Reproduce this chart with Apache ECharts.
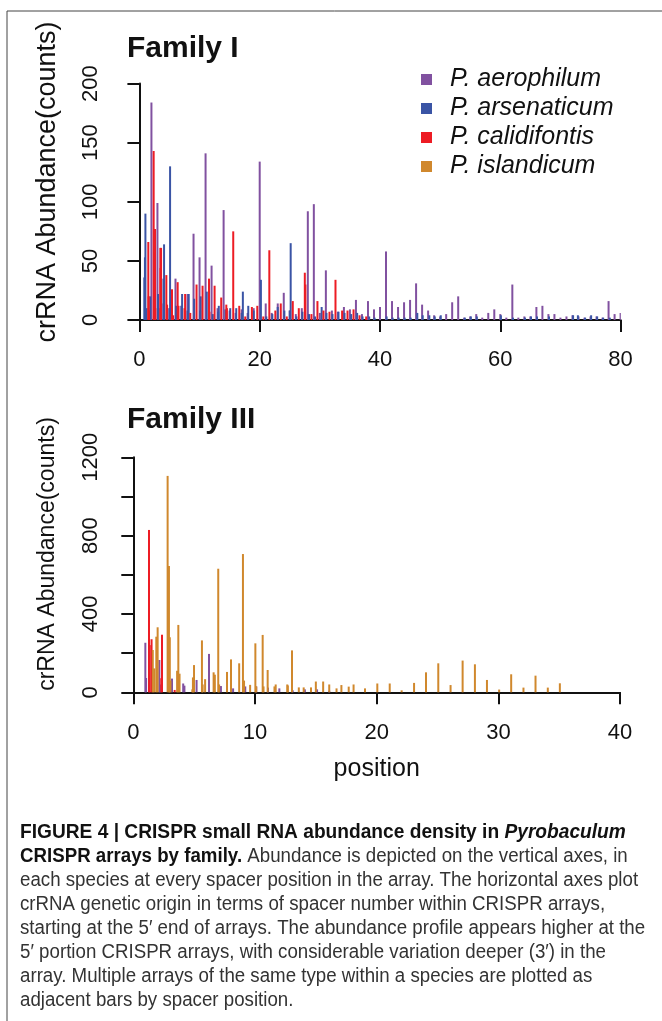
<!DOCTYPE html>
<html>
<head>
<meta charset="utf-8">
<script src="https://cdn.jsdelivr.net/npm/echarts@6/dist/echarts.min.js"></script>
<style>
  html, body { margin: 0; padding: 0; background: #fff; }
  #chart { width: 662px; height: 1021px; }
</style>
</head>
<body>
<div id="chart"></div>
<script>
// CRISPR small RNA abundance, Family I / Family III

const speciesNames = ['P. aerophilum', 'P. arsenaticum', 'P. calidifontis', 'P. islandicum'];
const speciesColors = ['#8151a0', '#3a54a5', '#ed1c24', '#d0882d'];

// Family I  [spacer position, counts]
const famI_aerophilum = [
    [1, 5], [2, 184], [3, 99], [4, 14], [5, 10], [6, 35], [7, 12], [8, 22], [9, 73], [10, 53],
    [11, 141], [12, 46], [13, 10], [14, 93], [15, 8], [16, 6], [17, 9], [18, 6], [19, 10], [20, 134],
    [21, 14], [22, 6], [23, 14], [24, 23], [25, 8], [26, 5], [27, 10], [28, 92], [29, 98], [30, 6],
    [31, 42], [32, 8], [33, 7], [34, 11], [35, 9], [36, 17], [37, 5], [38, 16], [39, 9], [40, 11],
    [41, 58], [42, 16], [43, 11], [44, 15], [45, 17], [46, 31], [47, 13], [48, 8], [49, 4], [50, 3],
    [51, 5], [52, 15], [53, 20], [54, 2], [55, 3], [56, 5], [57, 2], [58, 6], [59, 9], [60, 5],
    [61, 2], [62, 30], [63, 2], [64, 3], [65, 3], [66, 11], [67, 12], [68, 5], [69, 5], [70, 2],
    [71, 3], [72, 4], [73, 3], [74, 2], [75, 3], [76, 3], [77, 2], [78, 16], [79, 5], [80, 6]
];
const famI_arsenaticum = [
    [0.82, 36], [0.92, 53], [1.0, 90], [1.2, 10], [1.8, 20], [3.1, 22], [3.2, 10], [4.0, 35], [4.1, 64],
    [5.0, 10], [5.1, 130], [6.1, 12], [6.2, 8], [7.0, 12], [7.1, 22], [8.0, 8], [8.2, 22], [9.1, 18],
    [10.1, 8], [10.2, 20], [11.2, 24], [12.2, 5], [13.1, 7], [13.2, 12], [14.3, 9], [15.1, 10],
    [16.1, 10], [17.0, 6], [17.2, 24], [18.1, 12], [19.0, 8], [20.2, 34], [21.1, 3], [22.1, 5],
    [23.0, 11], [24.1, 8], [25.0, 8], [25.15, 65], [26.1, 3], [27.1, 7], [28.2, 5], [29.2, 3],
    [30.3, 11], [31.1, 6], [32.1, 5], [33.1, 7], [34.1, 6], [35.2, 5], [36.2, 6], [37.1, 3],
    [38.2, 3], [39.1, 2], [41.1, 3], [42.1, 2], [43.1, 2], [44.1, 2], [45.1, 2], [46.2, 6],
    [47.1, 4], [48.2, 4], [49.1, 3], [50.1, 4], [54.1, 2], [55.1, 3], [56.1, 3], [60.1, 4],
    [62.1, 2], [64.1, 2], [65.1, 3], [66.1, 3], [68.1, 3], [72.1, 4], [72.9, 4], [74.1, 2],
    [75.1, 4], [76.1, 3], [77.1, 2], [78.2, 2]
];
const famI_calidifontis = [
    [1.48, 66], [1.53, 20], [1.6, 8], [2.37, 143], [2.5, 57], [2.6, 77], [2.65, 10], [3.48, 61],
    [3.52, 44], [3.6, 61], [4.48, 38], [4.6, 13], [5.42, 26], [5.6, 4], [6.36, 32], [6.5, 12],
    [7.5, 10], [7.6, 22], [8.46, 6], [9.5, 30], [10.5, 29], [11.57, 35], [11.65, 7], [12.5, 29],
    [13.6, 19], [14.45, 13], [14.55, 10], [15.6, 75], [16.6, 12], [17.6, 3], [18.7, 11], [19.6, 12],
    [20.6, 3], [21.6, 59], [22.6, 8], [23.5, 14], [24.5, 3], [25.5, 16], [26.5, 10], [27.5, 40],
    [27.6, 30], [28.6, 5], [29.6, 16], [30.6, 8], [31.6, 7], [32.6, 34], [33.7, 8], [34.6, 8],
    [35.6, 9], [36.6, 4], [37.7, 3]
];
const famI_islandicum = [];

// Family III
const famIII_aerophilum = [
    [0.99, 253], [1.05, 73], [2.14, 165], [2.2, 40], [3.18, 70], [4.1, 45], [4.2, 34], [5.2, 63],
    [6.22, 196], [7.2, 32], [8.2, 20], [9.2, 30], [10.1, 30], [11.07, 24], [12.0, 20], [13.1, 10],
    [14.1, 15], [15.1, 15], [16.1, 8]
];
const famIII_arsenaticum = [];
const famIII_calidifontis = [
    [1.29, 829], [1.35, 241], [1.5, 271], [2.3, 72], [2.36, 294], [3.4, 12]
];
const famIII_islandicum = [
    [1.6, 216], [1.72, 122], [1.89, 284], [2.0, 332], [2.82, 1105], [2.93, 645], [3.0, 281], [3.05, 60],
    [3.6, 110], [3.7, 344], [3.8, 95], [4.85, 15], [4.9, 76], [4.99, 139], [5.64, 265], [5.7, 40],
    [5.9, 67], [6.6, 102], [6.7, 90], [6.98, 631], [7.05, 40], [7.7, 104], [8.03, 168], [8.7, 148],
    [9.01, 706], [9.1, 60], [9.6, 38], [10.03, 250], [10.1, 30], [10.63, 293], [10.7, 30], [11.04, 114],
    [11.6, 30], [11.7, 40], [12.65, 40], [12.7, 35], [13.04, 214], [13.6, 25], [14.0, 25], [14.6, 25],
    [15.0, 55], [15.6, 55], [16.1, 40], [16.7, 20], [17.1, 37], [17.7, 29], [18.1, 40], [19.04, 20],
    [20.05, 45], [21.07, 45], [22.05, 10], [23.07, 48], [24.05, 102], [25.06, 148], [26.07, 37],
    [27.06, 162], [28.07, 143], [29.06, 63], [30.06, 14], [31.05, 92], [32.06, 24], [33.05, 85],
    [34.06, 24], [35.05, 46]
];

const xTicksI = [0, 80, 20];      // min, max, step
const yTicksI = [0, 200, 50];
const xTicksIII = [0, 40, 10];
const yTicksIII = [0, 1200, 200];

const captionLines = [
    '{b|FIGURE 4 | CRISPR small RNA abundance density in }{bi|Pyrobaculum}',
    '{b|CRISPR arrays by family.}{n| Abundance is depicted on the vertical axes, in}',
    '{n|each species at every spacer position in the array. The horizontal axes plot}',
    '{n|crRNA genetic origin in terms of spacer number within CRISPR arrays,}',
    '{n|starting at the 5\u2032 end of arrays. The abundance profile appears higher at the}',
    '{n|5\u2032 portion CRISPR arrays, with considerable variation deeper (3\u2032) in the}',
    '{n|array. Multiple arrays of the same type within a species are plotted as}',
    '{n|adjacent bars by spacer position.}'
];

const FONT = '"Liberation Sans", Arial, Helvetica, sans-serif';

const chart = echarts.init(document.getElementById('chart'));

function xAxisFor(grid, ticks, offset, extra) {
    return Object.assign({
        type: 'value',
        gridIndex: grid,
        min: ticks[0],
        max: ticks[1],
        interval: ticks[2],
        position: 'bottom',
        offset: offset,
        axisLine: { show: true, lineStyle: { color: '#111', width: 2 } },
        axisTick: { show: true, length: 12, lineStyle: { color: '#111', width: 2 } },
        axisLabel: { color: '#111', fontSize: 22, fontFamily: FONT, margin: 21 },
        splitLine: { show: false }
    }, extra || {});
}

function yAxisFor(grid, ticks, offset, labelEvery) {
    return {
        type: 'value',
        gridIndex: grid,
        min: ticks[0],
        max: ticks[1],
        interval: ticks[2],
        offset: offset,
        axisLine: { show: true, lineStyle: { color: '#111', width: 2 } },
        axisTick: { show: true, length: 12, lineStyle: { color: '#111', width: 2 } },
        axisLabel: {
            color: '#111', fontSize: 22, fontFamily: FONT, rotate: 90, margin: 24,
            formatter: v => (v % labelEvery === 0 ? String(v) : '')
        },
        splitLine: { show: false }
    };
}

function barSeries(name, data, axis) {
    const idx = speciesNames.indexOf(name);
    return {
        name: name,
        type: 'bar',
        xAxisIndex: axis,
        yAxisIndex: axis,
        data: data,
        barWidth: 2,
        barGap: '-100%',
        itemStyle: { color: speciesColors[idx] },
        emphasis: { disabled: true }
    };
}

const graphics = [
    { type: 'line', shape: { x1: 7, y1: 11, x2: 662, y2: 11 }, style: { stroke: '#444', lineWidth: 1 } },
    { type: 'line', shape: { x1: 7, y1: 11, x2: 7, y2: 1021 }, style: { stroke: '#444', lineWidth: 1 } },
    { type: 'text', left: 127, top: 34, style: { text: 'Family I', font: 'bold 30px ' + FONT, fill: '#111' } },
    { type: 'text', left: 127, top: 405, style: { text: 'Family III', font: 'bold 30px ' + FONT, fill: '#111' } },
    {
        type: 'text', x: 48, y: 182, rotation: Math.PI / 2,
        style: { text: 'crRNA Abundance(counts)', font: '27px ' + FONT, fill: '#111', align: 'center', verticalAlign: 'middle' }
    },
    {
        type: 'text', x: 48, y: 554, rotation: Math.PI / 2,
        style: { text: 'crRNA Abundance(counts)', font: '23px ' + FONT, fill: '#111', align: 'center', verticalAlign: 'middle' }
    }
];

captionLines.forEach((line, i) => {
    graphics.push({
        type: 'text',
        x: 20,
        y: 832 + i * 24.1,
        scaleX: i === 0 ? 0.958 : 0.935,
        style: {
            text: line,
            verticalAlign: 'middle',
            fill: '#222',
            rich: {
                b: { fontFamily: FONT, fontWeight: 'bold', fontSize: 20, fill: '#111' },
                bi: { fontFamily: FONT, fontWeight: 'bold', fontStyle: 'italic', fontSize: 20, fill: '#111' },
                n: { fontFamily: FONT, fontSize: 20, fill: '#333' }
            }
        }
    });
});

const option = {
    animation: false,
    backgroundColor: '#fff',
    legend: {
        data: speciesNames,
        orient: 'vertical',
        left: 421,
        top: 67,
        padding: 0,
        icon: 'rect',
        itemWidth: 11,
        itemHeight: 11,
        itemGap: 4,
        selectedMode: false,
        textStyle: {
            fontFamily: FONT, fontStyle: 'italic', fontSize: 25, color: '#111',
            lineHeight: 25, padding: [0, 0, 0, 13]
        }
    },
    grid: [
        { left: 139.4, top: 83.6, width: 481.2, height: 236.4 },
        { left: 133.3, top: 457.3, width: 486.8, height: 235 }
    ],
    xAxis: [
        xAxisFor(0, xTicksI, 8),
        xAxisFor(1, xTicksIII, 9, {
            name: 'position',
            nameLocation: 'middle',
            nameGap: 55,
            nameTextStyle: { fontSize: 25, fontFamily: FONT, color: '#111' }
        })
    ],
    yAxis: [
        yAxisFor(0, yTicksI, 13, 50),
        yAxisFor(1, yTicksIII, 7, 400)
    ],
    series: [
        barSeries('P. aerophilum', famI_aerophilum, 0),
        barSeries('P. arsenaticum', famI_arsenaticum, 0),
        barSeries('P. calidifontis', famI_calidifontis, 0),
        barSeries('P. islandicum', famI_islandicum, 0),
        barSeries('P. aerophilum', famIII_aerophilum, 1),
        barSeries('P. arsenaticum', famIII_arsenaticum, 1),
        barSeries('P. calidifontis', famIII_calidifontis, 1),
        barSeries('P. islandicum', famIII_islandicum, 1)
    ],
    graphic: graphics
};

chart.setOption(option);
window.addEventListener('resize', () => chart.resize());
</script>
</body>
</html>
